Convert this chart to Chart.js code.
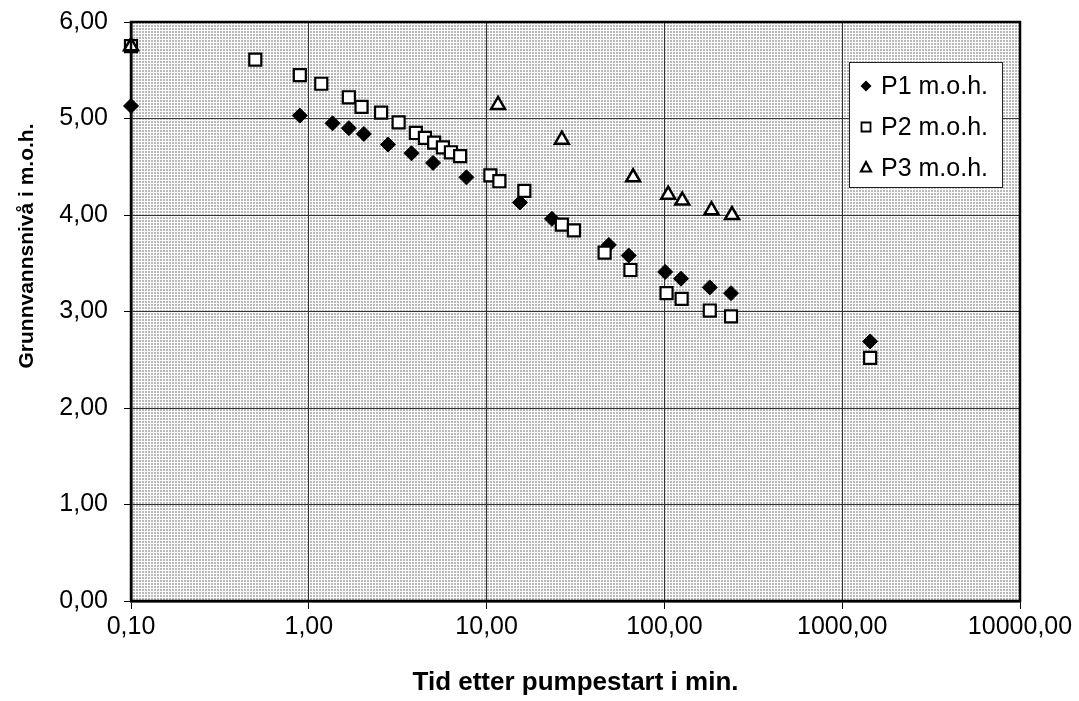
<!DOCTYPE html>
<html>
<head>
<meta charset="utf-8">
<script src="https://cdn.jsdelivr.net/npm/chart.js@4.4.1/dist/chart.umd.min.js"></script>
<style>
  html, body { margin: 0; padding: 0; background: #fff; }
  #wrap { width: 1079px; height: 701px; }
</style>
</head>
<body>
<div id="wrap"><canvas id="chart" width="1079" height="701"></canvas></div>
<script>
// Tid (min) og grunnvannsnivå (m.o.h.) lest av figuren
const p1Tid = [0.1, 0.89, 1.36, 1.68, 2.04, 2.79, 3.78, 5.0, 7.7, 15.4, 23.3, 48.7, 63, 101, 124, 180, 237, 1436];
const p1Niva = [5.13, 5.03, 4.95, 4.90, 4.84, 4.73, 4.64, 4.54, 4.39, 4.13, 3.96, 3.69, 3.58, 3.41, 3.34, 3.25, 3.19, 2.69];

const p2Tid = [0.1, 0.5, 0.89, 1.175, 1.68, 1.98, 2.55, 3.2, 4.0, 4.5, 5.07, 5.68, 6.3, 7.1, 10.5, 11.8, 16.3, 26.5, 31, 46.1, 64.4, 102.8, 125, 180, 237, 1436];
const p2Niva = [5.75, 5.61, 5.45, 5.36, 5.22, 5.12, 5.06, 4.96, 4.85, 4.80, 4.75, 4.70, 4.65, 4.61, 4.41, 4.35, 4.25, 3.90, 3.84, 3.61, 3.43, 3.19, 3.13, 3.01, 2.95, 2.52];

const p3Tid = [0.1, 11.6, 26.5, 66.7, 105, 126, 184, 240];
const p3Niva = [5.75, 5.14, 4.78, 4.39, 4.21, 4.15, 4.05, 4.00];

const seriesNavn = ['P1 m.o.h.', 'P2 m.o.h.', 'P3 m.o.h.'];
const xTicks = [0.1, 1, 10, 100, 1000, 10000];
const yTicks = [0, 1, 2, 3, 4, 5, 6];
const yTittel = 'Grunnvannsnivå i m.o.h.';

const FONT = '"Liberation Sans", Arial, sans-serif';
const fmt = v => Number(v).toFixed(2).replace('.', ',');
const punkter = (xs, ys) => xs.map((x, i) => ({ x, y: ys[i] }));

// prikket bakgrunn i plottområdet
function lagMonster(ctx) {
  const c = document.createElement('canvas');
  c.width = 3; c.height = 3;
  const g = c.getContext('2d');
  g.fillStyle = '#fdfdfd';
  g.fillRect(0, 0, 3, 3);
  g.fillStyle = '#b9b9b9';
  g.fillRect(1, 1, 2, 2);
  return ctx.createPattern(c, 'repeat');
}

const bakgrunn = {
  id: 'bakgrunn',
  beforeDraw(chart) {
    const { ctx, chartArea: a } = chart;
    ctx.save();
    ctx.fillStyle = lagMonster(ctx);
    ctx.fillRect(a.left, a.top, a.right - a.left, a.bottom - a.top);
    ctx.restore();
  },
  afterDatasetsDraw(chart) {
    const { ctx, chartArea: a } = chart;
    ctx.save();
    ctx.strokeStyle = '#000';
    ctx.lineWidth = 2.5;
    ctx.strokeRect(a.left, a.top, a.right - a.left, a.bottom - a.top);
    // y-aksetittel, litt over midten som i originalen
    ctx.translate(27, 246);
    ctx.rotate(-Math.PI / 2);
    ctx.font = 'bold 21px ' + FONT;
    ctx.fillStyle = '#000';
    ctx.textAlign = 'center';
    ctx.textBaseline = 'middle';
    ctx.fillText(yTittel, 0, 0);
    ctx.restore();
  }
};

// forklaring inne i plottet
const forklaring = {
  id: 'forklaring',
  afterDraw(chart) {
    const { ctx } = chart;
    const x0 = 849, y0 = 62, w = 153, h = 125;
    ctx.save();
    ctx.fillStyle = '#fff';
    ctx.fillRect(x0, y0, w, h);
    ctx.strokeStyle = '#222';
    ctx.lineWidth = 1;
    ctx.strokeRect(x0 + 0.5, y0 + 0.5, w, h);
    ctx.font = '25px ' + FONT;
    ctx.fillStyle = '#000';
    ctx.textBaseline = 'middle';
    seriesNavn.forEach((navn, i) => {
      const cy = 86 + i * 41;
      const cx = 866;
      ctx.beginPath();
      if (i === 0) {
        ctx.moveTo(cx - 5.5, cy); ctx.lineTo(cx, cy - 5.5); ctx.lineTo(cx + 5.5, cy); ctx.lineTo(cx, cy + 5.5);
        ctx.closePath();
        ctx.fillStyle = '#000'; ctx.fill();
      } else if (i === 1) {
        ctx.rect(cx - 4.5, cy - 4.5, 9, 9);
        ctx.lineWidth = 1.8; ctx.strokeStyle = '#000'; ctx.stroke();
      } else {
        ctx.moveTo(cx, cy - 6); ctx.lineTo(cx + 5, cy + 3.5); ctx.lineTo(cx - 5, cy + 3.5);
        ctx.closePath();
        ctx.lineWidth = 2.2; ctx.strokeStyle = '#000'; ctx.stroke();
      }
      ctx.fillStyle = '#000';
      ctx.fillText(navn, 881, cy + 1);
    });
    ctx.restore();
  }
};

new Chart(document.getElementById('chart'), {
  type: 'scatter',
  data: {
    datasets: [
      { label: seriesNavn[0], data: punkter(p1Tid, p1Niva), order: 2, clip: false,
        pointStyle: 'rectRot', pointRadius: 7.5, backgroundColor: '#000', borderColor: '#000', borderWidth: 1 },
      { label: seriesNavn[1], data: punkter(p2Tid, p2Niva), order: 1, clip: false,
        pointStyle: 'rect', pointRadius: 8.5, backgroundColor: '#fff', borderColor: '#000', borderWidth: 2.2 },
      { label: seriesNavn[2], data: punkter(p3Tid, p3Niva), order: 0, clip: false,
        pointStyle: 'triangle', pointRadius: 8, backgroundColor: '#fff', borderColor: '#000', borderWidth: 2.5 }
    ]
  },
  options: {
    responsive: false,
    animation: false,
    layout: { padding: { left: 15, right: 59, top: 22, bottom: 0 } },
    plugins: { legend: { display: false }, tooltip: { enabled: false } },
    scales: {
      x: {
        type: 'logarithmic', min: 0.1, max: 10000,
        afterBuildTicks: axis => { axis.ticks = xTicks.map(v => ({ value: v })); },
        afterFit: axis => { axis.height = 100; axis.paddingLeft = 0; axis.paddingRight = 0; },
        ticks: { callback: v => fmt(v), color: '#000', font: { family: FONT, size: 25 }, padding: 3, maxRotation: 0, autoSkip: false },
        grid: { color: '#333', lineWidth: 1, tickLength: 8, tickColor: '#000' },
        border: { color: '#000', width: 2.5 },
        title: { display: true, text: 'Tid etter pumpestart i min.', color: '#000',
          font: { family: FONT, size: 26, weight: 'bold', lineHeight: 1.1 } }
      },
      y: {
        min: 0, max: 6,
        afterBuildTicks: axis => { axis.ticks = yTicks.map(v => ({ value: v })); },
        afterFit: axis => { axis.width = 116; axis.paddingTop = 0; axis.paddingBottom = 0; },
        ticks: { callback: v => fmt(v), color: '#000', font: { family: FONT, size: 25 }, padding: 16 },
        grid: { color: '#333', lineWidth: 1, tickLength: 7, tickColor: '#000' },
        border: { color: '#000', width: 2.5 },
        title: { display: false }
      }
    }
  },
  plugins: [bakgrunn, forklaring]
});
</script>
</body>
</html>
